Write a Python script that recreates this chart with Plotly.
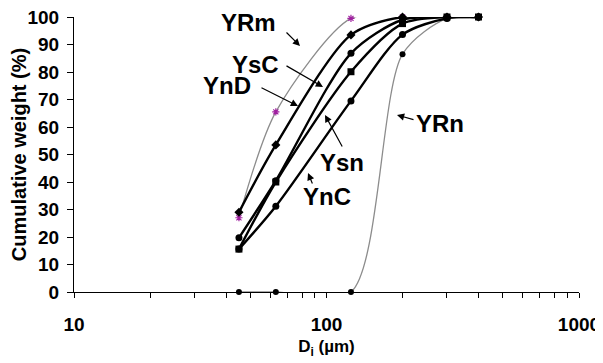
import plotly.graph_objects as go

# ---- data ----
sizes = [45, 63, 125, 200, 300, 400]
YnD = [29, 53.5, 93.5, 100, 100, 100]
YsC = [19.7, 40.5, 86.8, 99, 100, 100]
Ysn = [15.6, 40, 80.1, 97.6, 100, 100]
YnC = [15.6, 31.2, 69.5, 93.6, 99.5, 100]
YRn = [0, 0, 0, 86.5, 99.5, 100]
sizes_m = [45, 63, 125, 200, 300]
YRm = [27, 65.5, 99.5, 100, 100]

y_ticks = [0, 10, 20, 30, 40, 50, 60, 70, 80, 90, 100]
x_major = [10, 100, 1000]
x_minor = [20, 30, 40, 50, 60, 70, 80, 90, 200, 300, 400, 500, 600, 700, 800, 900]

# page has an 8px body margin; figure sized to fill the rest of the window
OFF = 8
W, H = 603 - OFF, 363 - OFF
# plot area in window pixels: x 74..579, y 17..292
L, R, T, B = 74 - OFF, 603 - 579, 17 - OFF, 363 - 292
PW, PH = W - L - R, H - T - B


def px(xp, yp):
    # window pixel -> paper coords
    return (xp - OFF - L) / PW, (H - B - (yp - OFF)) / PH


FONT = "Arial, Liberation Sans, sans-serif"

fig = go.Figure()

fig.add_trace(go.Scatter(x=sizes_m, y=YRm, mode="lines+markers", name="YRm",
                         line=dict(color="#8c8c8c", width=1.3, shape="spline", smoothing=0.8),
                         marker=dict(symbol="asterisk-open", size=6, color="#a020a0",
                                     line=dict(color="#a020a0", width=1.2)),
                         cliponaxis=False))
fig.add_trace(go.Scatter(x=sizes, y=YRn, mode="lines+markers", name="YRn",
                         line=dict(color="#8c8c8c", width=1.3, shape="spline", smoothing=0.8),
                         marker=dict(symbol="circle", size=6, color="black"),
                         cliponaxis=False))
for name, vals, sym in [("YnD", YnD, "diamond"), ("YsC", YsC, "circle"),
                        ("Ysn", Ysn, "square"), ("YnC", YnC, "circle")]:
    fig.add_trace(go.Scatter(x=sizes, y=vals, mode="lines+markers", name=name,
                             line=dict(color="black", width=2.4, shape="spline", smoothing=0.8),
                             marker=dict(symbol=sym, size=7, color="black"),
                             cliponaxis=False))

# labels (text centre, window pixels) and arrows (tail -> head, window pixels)
labels = [("YRm", 248, 22), ("YsC", 255, 64), ("YnD", 227, 86),
          ("Ysn", 342, 162), ("YnC", 327, 196), ("YRn", 440, 123)]
arrows = [((285, 31), (300, 46)), ((285, 65), (323, 87)), ((260, 87), (298, 106)),
          ((343, 148), (325, 115)), ((313, 185), (308, 173)), ((415, 120), (397, 115))]

for txt, xp, yp in labels:
    xx, yy = px(xp, yp)
    fig.add_annotation(x=xx, y=yy, xref="paper", yref="paper", text="<b>%s</b>" % txt,
                       showarrow=False, font=dict(family=FONT, size=24, color="black"),
                       xanchor="center", yanchor="middle")
for (tx, ty), (hx, hy) in arrows:
    xx, yy = px(hx, hy)
    fig.add_annotation(x=xx, y=yy, xref="paper", yref="paper", text="",
                       showarrow=True, ax=tx - hx, ay=ty - hy, axref="pixel", ayref="pixel",
                       arrowhead=2, arrowsize=1.2, arrowwidth=1.2, arrowcolor="black",
                       standoff=0, startstandoff=0)

tickvals = sorted(x_major + x_minor)
ticktext = ["<b>%d</b>" % v if v in x_major else "" for v in tickvals]

fig.update_layout(
    width=W, height=H, margin=dict(l=L, r=R, t=T, b=B, autoexpand=False),
    paper_bgcolor="white", plot_bgcolor="white", showlegend=False,
    font=dict(family=FONT, color="black"),
    xaxis=dict(type="log", range=[1, 3], tickvals=tickvals, ticktext=ticktext,
               ticks="outside", ticklen=5, tickwidth=1, tickcolor="black",
               showline=True, linecolor="black", linewidth=1.2, showgrid=False, zeroline=False,
               tickfont=dict(size=19, family=FONT), ticklabelstandoff=10, automargin=False,
               ticklabeloverflow="allow",
               title=dict(text="<b>D<sub>i</sub> (µm)</b>", font=dict(size=17, family=FONT), standoff=6)),
    yaxis=dict(range=[0, 100], tickvals=y_ticks, ticktext=["<b>%d</b>" % v for v in y_ticks],
               ticks="outside", ticklen=6, tickwidth=1, tickcolor="black",
               showline=True, linecolor="black", linewidth=1.2, showgrid=False, zeroline=False,
               tickfont=dict(size=19, family=FONT), ticklabelstandoff=4, automargin=False,
               ticklabeloverflow="allow",
               title=dict(text="<b>Cumulative weight (%)</b>", font=dict(size=20, family=FONT), standoff=8)),
)

fig.write_html("out.html")
